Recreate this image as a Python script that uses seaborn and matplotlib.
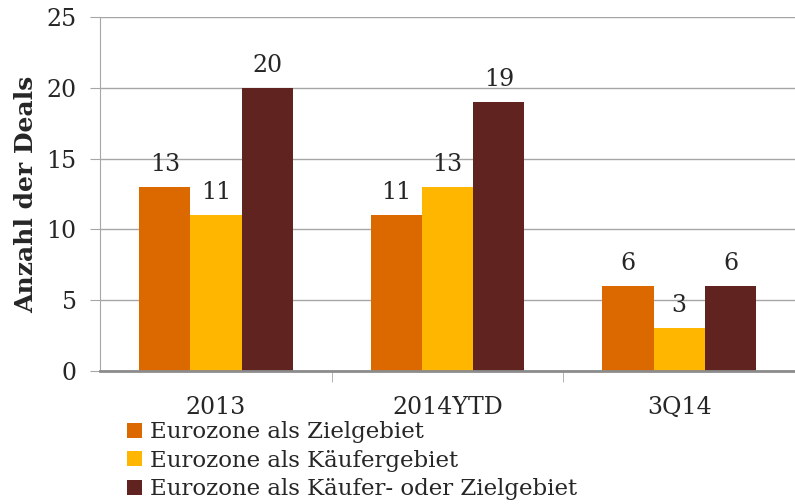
import pandas as pd
import matplotlib.pyplot as plt
import seaborn as sns

# Daten
kategorien = ['2013', '2014YTD', '3Q14']
serien = ['Eurozone als Zielgebiet',
          'Eurozone als Käufergebiet',
          'Eurozone als Käufer- oder Zielgebiet']
ziel = [13, 11, 6]
kaeufer = [11, 13, 3]
beide = [20, 19, 6]
farben = ['#DC6900', '#FFB600', '#602320']

df = pd.DataFrame({
    'Jahr': kategorien * 3,
    'Serie': [serien[0]] * 3 + [serien[1]] * 3 + [serien[2]] * 3,
    'Deals': ziel + kaeufer + beide,
})

sns.set_style('white')
plt.rcParams['font.family'] = ['DejaVu Serif']

fig = plt.figure(figsize=(7.95, 5.04), dpi=100)
ax = fig.add_axes([0.126, 0.264, 0.874, 0.702])

sns.barplot(data=df, x='Jahr', y='Deals', hue='Serie', hue_order=serien,
            palette=farben, width=0.664, saturation=1, ax=ax,
            edgecolor='none', legend=True)

for cont in ax.containers:
    ax.bar_label(cont, padding=8, fontsize=17)

ax.set_ylim(0, 25)
ax.set_yticks(range(0, 26, 5))
ax.set_xlim(-0.5, 2.5)
ax.yaxis.grid(True, color='#A6A6A6', linewidth=1)
ax.set_axisbelow(True)

for s in ['top', 'right']:
    ax.spines[s].set_visible(False)
ax.spines['left'].set_color('#A6A6A6')
ax.spines['bottom'].set_color('#8C8C8C')
ax.spines['bottom'].set_linewidth(2)

ax.tick_params(axis='y', length=7, color='#A6A6A6', labelsize=17, pad=10, direction='out', left=True)
ax.set_xticks([0.5, 1.5], minor=True)
ax.tick_params(axis='x', which='major', length=0, labelsize=17, pad=18)
ax.tick_params(axis='x', which='minor', length=8, color='#A6A6A6', direction='out', bottom=True)

ax.set_xlabel('')
ax.set_ylabel('Anzahl der Deals', fontsize=18, fontweight='bold', labelpad=6)

handles, labels = ax.get_legend_handles_labels()
ax.get_legend().remove()
fig.legend(handles, labels, loc='upper left', bbox_to_anchor=(0.148, 0.182),
           frameon=False, fontsize=16.5, handlelength=0.65, handleheight=0.65,
           handletextpad=0.35, labelspacing=0.28, borderaxespad=0)

fig.savefig('out.png', dpi=100)
